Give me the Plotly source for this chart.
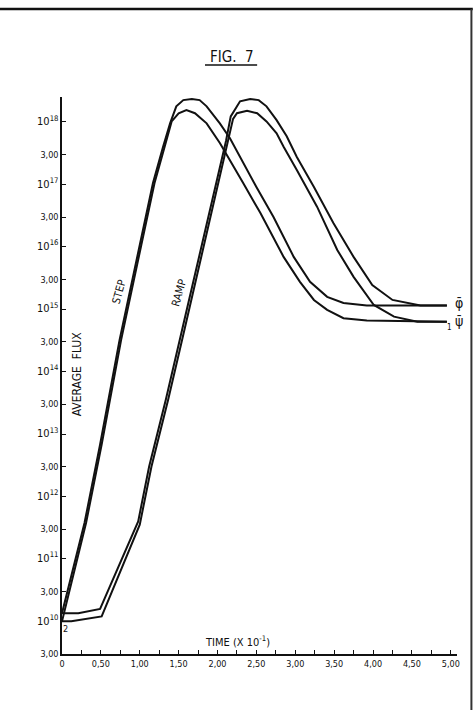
import plotly.graph_objects as go
import math

# ---------------- data ----------------
# time axis in units of 10^-1
step_phi_t = [0.00, 0.29, 0.49, 0.74, 1.00, 1.17, 1.30, 1.39, 1.47, 1.56, 1.67,
              1.77, 1.86, 2.03, 2.16, 2.29, 2.50, 2.72, 2.98, 3.19, 3.41, 3.62, 3.92, 4.95]
step_phi_flux = [1.35e10, 3.8e11, 6.8e12, 3.2e14, 1.07e16, 1.05e17, 4.0e17,
                 9.5e17, 1.78e18, 2.24e18, 2.34e18, 2.24e18, 1.78e18, 9.5e17, 5.5e17, 2.75e17,
                 9.1e16, 3.0e16, 6.9e15, 2.75e15, 1.58e15, 1.26e15, 1.15e15, 1.15e15]

step_psi_t = [0.00, 0.31, 0.51, 0.76, 1.02, 1.19, 1.32, 1.41, 1.50, 1.60, 1.71,
              1.86, 2.03, 2.16, 2.33, 2.55, 2.85, 3.06, 3.24, 3.41, 3.62, 3.92, 4.95]
step_psi_flux = [1.0e10, 3.8e11, 6.8e12, 3.2e14, 1.07e16, 1.05e17, 4.0e17,
                 1.02e18, 1.38e18, 1.55e18, 1.38e18, 9.5e17, 4.6e17, 2.45e17, 1.05e17, 3.5e16,
                 6.9e15, 2.75e15, 1.41e15, 9.8e14, 7.2e14, 6.6e14, 6.3e14]

ramp_phi_t = [0.00, 0.21, 0.49, 0.98, 1.12, 1.335, 1.55, 1.765, 1.98, 2.11, 2.17, 2.25, 2.29,
              2.42, 2.53, 2.63, 2.76, 2.89, 3.02, 3.24, 3.49, 3.75, 3.99, 4.25, 4.61, 4.95]
ramp_phi_flux = [1.35e10, 1.35e10, 1.58e10, 4.0e11, 3.0e12, 3.55e13, 5.0e14, 7.1e15, 1.02e17,
                 5.0e17, 1.23e18, 1.78e18, 2.14e18, 2.34e18, 2.24e18, 1.78e18, 1.07e18, 5.9e17,
                 2.75e17, 9.1e16, 2.4e16, 6.9e15, 2.45e15, 1.41e15, 1.15e15, 1.15e15]

ramp_psi_t = [0.00, 0.12, 0.51, 1.00, 1.15, 1.365, 1.58, 1.795, 2.01, 2.14, 2.20, 2.25, 2.38,
              2.51, 2.63, 2.76, 2.85, 3.02, 3.28, 3.54, 3.75, 4.01, 4.27, 4.57, 4.95]
ramp_psi_flux = [1.0e10, 1.0e10, 1.2e10, 3.55e11, 3.0e12, 3.55e13, 5.0e14, 7.1e15, 1.02e17,
                 5.0e17, 1.12e18, 1.38e18, 1.51e18, 1.38e18, 1.02e18, 6.6e17, 4.0e17, 1.7e17,
                 4.4e16, 8.9e15, 3.3e15, 1.17e15, 7.6e14, 6.3e14, 6.3e14]

x_tickvals = [0, 0.25, 0.5, 0.75, 1.0, 1.25, 1.5, 1.75, 2.0, 2.25, 2.5, 2.75, 3.0, 3.25, 3.5,
              3.75, 4.0, 4.25, 4.5, 4.75, 5.0]
x_ticktext = ["0", "", "0,50", "", "1,00", "", "1,50", "", "2,00", "", "2,50", "", "3,00", "",
              "3,50", "", "4,00", "", "4,50", "", "5,00"]

y_tickvals = [3e9, 1e10, 3e10, 1e11, 3e11, 1e12, 3e12, 1e13, 3e13, 1e14, 3e14, 1e15, 3e15,
              1e16, 3e16, 1e17, 3e17, 1e18]
y_exponents = ["", "10", "", "11", "", "12", "", "13", "", "14", "", "15", "", "16", "", "17", "", "18"]

# ---------------- figure ----------------
FONT = "DejaVu Sans Condensed, Liberation Sans Narrow, Roboto, Liberation Sans, Arial, sans-serif"
INK = "#111111"

y_ticktext = []
for e in y_exponents:
    if e:
        y_ticktext.append('<span style="font-size:11px">10<sup>%s</sup></span>' % e)
    else:
        y_ticktext.append("3,00")

fig = go.Figure()
for t, f in [(step_phi_t, step_phi_flux), (step_psi_t, step_psi_flux),
             (ramp_phi_t, ramp_phi_flux), (ramp_psi_t, ramp_psi_flux)]:
    fig.add_trace(go.Scatter(x=t, y=f, mode="lines",
                             line=dict(color=INK, width=2),
                             showlegend=False, hoverinfo="skip"))


def txt(text, x, y, size, angle=0, xref="x", yref="y"):
    return dict(text=text, x=x, y=y, xref=xref, yref=yref, textangle=angle,
                xanchor="center", yanchor="middle", showarrow=False,
                font=dict(family=FONT, size=size, color=INK))


annotations = [
    txt("STEP", 0.74, 15.28, 11, -74),
    txt("RAMP", 1.50, 15.26, 11, -74),
    txt("AVERAGE  FLUX", 0.19, 13.97, 12, -90),
    txt("TIME (X 10<sup>-1</sup>)", 2.26, 9.68, 11),
    txt("φ̄", 1.004, 0.630, 14, xref="paper", yref="paper"),
    txt("ψ̄", 1.004, 0.597, 14, xref="paper", yref="paper"),
    txt("1", 0.980, 0.587, 8, xref="paper", yref="paper"),
    txt("2", 0.045, 9.87, 9),
    txt("FIG.  7", 0.43, 1.0725, 15, xref="paper", yref="paper"),
]

shapes = [
    # title underline
    dict(type="line", xref="paper", yref="paper", x0=0.362, x1=0.494, y0=1.0575, y1=1.0575,
         line=dict(color=INK, width=1.5)),
    # page frame (top and right border of the scanned sheet)
    dict(type="line", xref="paper", yref="paper", x0=-0.16, x1=1.04, y0=1.158, y1=1.158,
         line=dict(color=INK, width=2.5)),
    dict(type="line", xref="paper", yref="paper", x0=1.0365, x1=1.0365, y0=1.158, y1=-0.102,
         line=dict(color="#333333", width=2)),
]

fig.update_layout(
    width=473, height=710,
    margin=dict(l=62, r=16, t=97, b=56),
    paper_bgcolor="white", plot_bgcolor="white",
    font=dict(family=FONT, color=INK, size=9),
    annotations=annotations, shapes=shapes,
    xaxis=dict(range=[0, 5.08], showgrid=False, zeroline=False, showline=True,
               linecolor=INK, linewidth=1.5, ticks="inside", ticklen=4, tickwidth=1,
               tickcolor=INK, tickvals=x_tickvals, ticktext=x_ticktext,
               tickfont=dict(family=FONT, size=9, color=INK), automargin=False),
    yaxis=dict(type="log", range=[math.log10(3e9), 18.40], showgrid=False, zeroline=False,
               showline=True, linecolor=INK, linewidth=1.5, ticks="inside", ticklen=4,
               tickwidth=1, tickcolor=INK, tickvals=y_tickvals, ticktext=y_ticktext,
               tickfont=dict(family=FONT, size=9, color=INK), automargin=False),
)

fig.write_html("out.html")
